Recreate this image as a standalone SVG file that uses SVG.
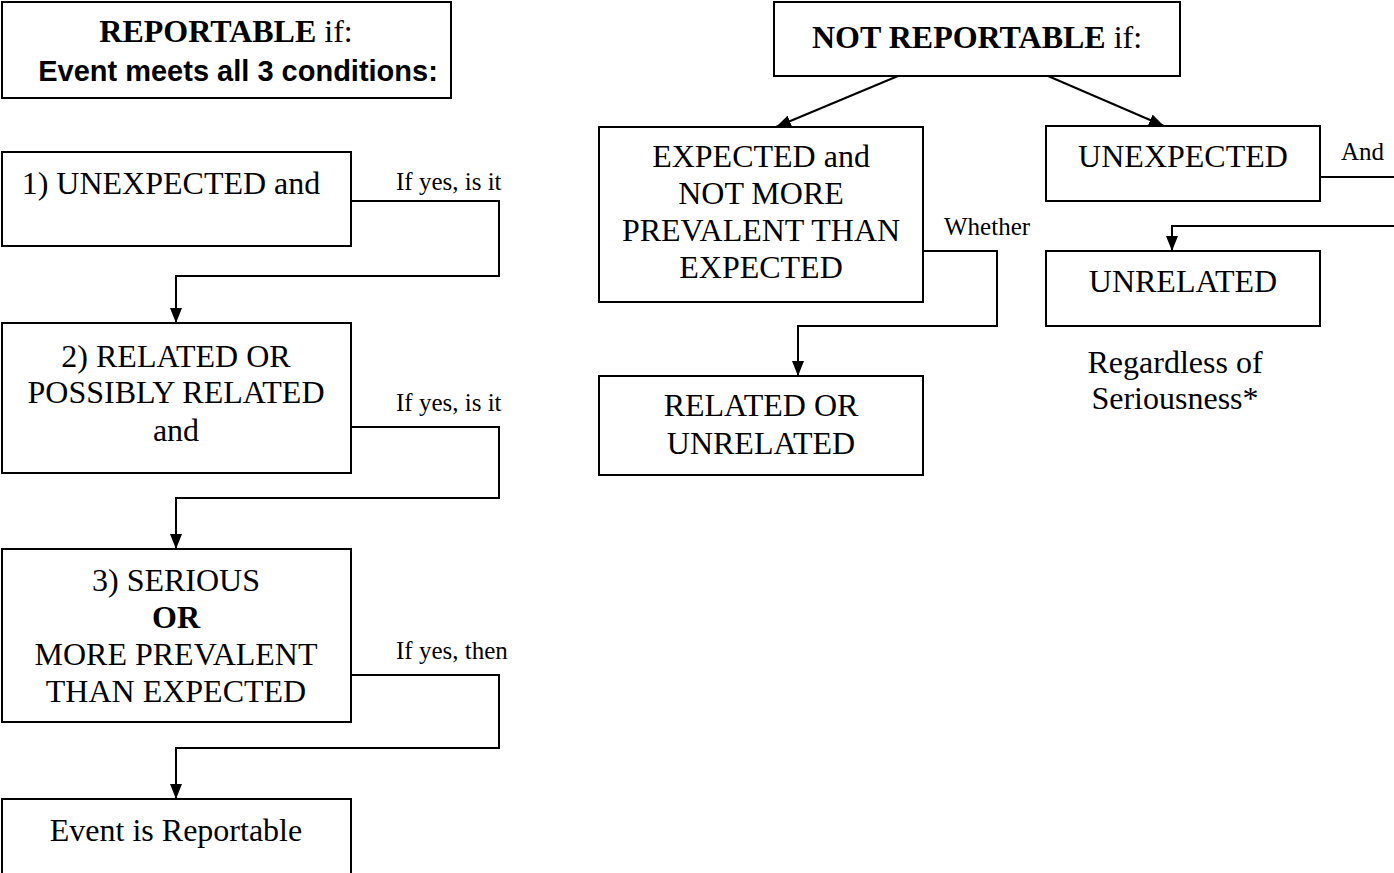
<svg xmlns="http://www.w3.org/2000/svg" width="1394" height="873" viewBox="0 0 1394 873">
<defs>
<marker id="ah" viewBox="0 0 15 12" refX="15" refY="6" markerWidth="15" markerHeight="12" markerUnits="userSpaceOnUse" orient="auto">
<path d="M0,0 L15,6 L0,12 Z" fill="#000"/>
</marker>
<style>
.box{fill:#fff;stroke:#000;stroke-width:2}
.t{font-family:"Liberation Serif","Times New Roman",serif;font-size:32px;fill:#000;text-anchor:middle}
.s{font-family:"Liberation Serif","Times New Roman",serif;font-size:25px;fill:#000}
.b{font-weight:bold}
.a{font-family:"Liberation Sans",Arial,sans-serif;font-size:29px;font-weight:bold;fill:#000;text-anchor:middle}
.c{fill:none;stroke:#000;stroke-width:2}
</style>
</defs>
<rect width="1394" height="873" fill="#fff"/>
<g id="connectors">
<path class="c" d="M351,201 H499 V276 H176 V323" marker-end="url(#ah)"/>
<path class="c" d="M351,427 H499 V498 H176 V549" marker-end="url(#ah)"/>
<path class="c" d="M351,675 H499 V748 H176 V799" marker-end="url(#ah)"/>
<path class="c" d="M898,76 L776,127" marker-end="url(#ah)"/>
<path class="c" d="M1048,76 L1164,126" marker-end="url(#ah)"/>
<path class="c" d="M923,251 H997 V326 H798 V376" marker-end="url(#ah)"/>
<path class="c" d="M1320,177 H1394"/>
<path class="c" d="M1394,226 H1172 V251" marker-end="url(#ah)"/>
</g>
<g id="header-reportable">
<rect class="box" x="2" y="2" width="449" height="96"/>
<text class="t" x="226" y="42"><tspan class="b">REPORTABLE</tspan> if:</text>
<text class="a" x="238" y="81">Event meets all 3 conditions:</text>
</g>
<g id="n1">
<rect class="box" x="2" y="152" width="349" height="94"/>
<text class="t" x="171" y="194">1) UNEXPECTED and</text>
</g>
<g id="n2">
<rect class="box" x="2" y="323" width="349" height="150"/>
<text class="t" x="176" y="367">2) RELATED OR</text>
<text class="t" x="176" y="403">POSSIBLY RELATED</text>
<text class="t" x="176" y="441">and</text>
</g>
<g id="n3">
<rect class="box" x="2" y="549" width="349" height="173"/>
<text class="t" x="176" y="591">3) SERIOUS</text>
<text class="t b" x="176" y="628">OR</text>
<text class="t" x="176" y="665">MORE PREVALENT</text>
<text class="t" x="176" y="702">THAN EXPECTED</text>
</g>
<g id="n4">
<rect class="box" x="2" y="799" width="349" height="90"/>
<text class="t" x="176" y="841">Event is Reportable</text>
</g>
<g id="labels-left">
<text class="s" x="396" y="190">If yes, is it</text>
<text class="s" x="396" y="411">If yes, is it</text>
<text class="s" x="396" y="659">If yes, then</text>
</g>
<g id="header-not">
<rect class="box" x="774" y="2" width="406" height="74"/>
<text class="t" x="977" y="48"><tspan class="b">NOT REPORTABLE</tspan> if:</text>
</g>
<g id="n-expected">
<rect class="box" x="599" y="127" width="324" height="175"/>
<text class="t" x="761" y="167">EXPECTED and</text>
<text class="t" x="761" y="204">NOT MORE</text>
<text class="t" x="761" y="241">PREVALENT THAN</text>
<text class="t" x="761" y="278">EXPECTED</text>
</g>
<g id="n-related-unrelated">
<rect class="box" x="599" y="376" width="324" height="99"/>
<text class="t" x="761" y="416">RELATED OR</text>
<text class="t" x="761" y="454">UNRELATED</text>
</g>
<g id="n-unexpected">
<rect class="box" x="1046" y="126" width="274" height="75"/>
<text class="t" x="1183" y="167">UNEXPECTED</text>
</g>
<g id="n-unrelated">
<rect class="box" x="1046" y="251" width="274" height="75"/>
<text class="t" x="1183" y="292">UNRELATED</text>
</g>
<g id="labels-right">
<text class="s" x="944" y="235">Whether</text>
<text class="s" x="1341" y="160">And</text>
<text class="t" x="1175" y="373">Regardless of</text>
<text class="t" x="1175" y="409">Seriousness*</text>
</g>
</svg>
